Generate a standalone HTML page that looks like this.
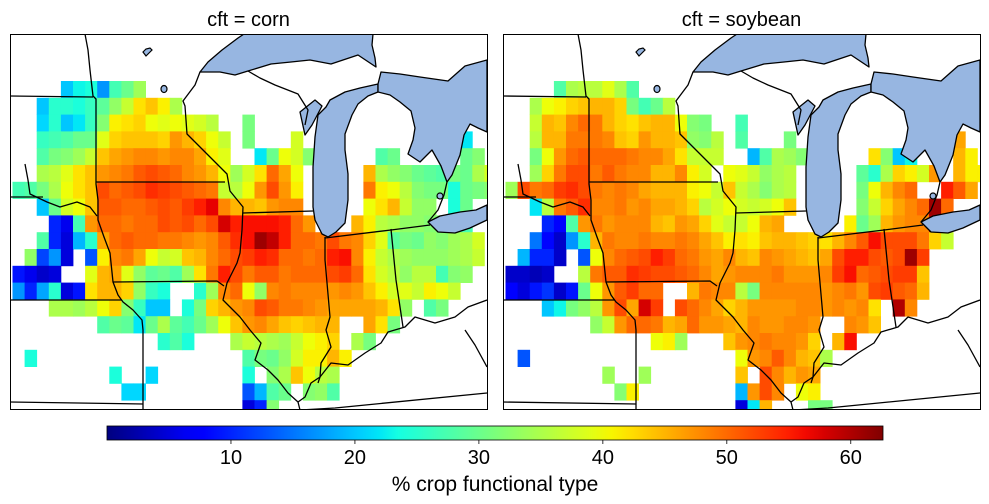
<!DOCTYPE html>
<html><head><meta charset="utf-8">
<style>
html,body{margin:0;padding:0;background:#fff;}
svg{display:block;font-family:"Liberation Sans","DejaVu Sans",sans-serif;}
</style></head>
<body>
<svg id="chart" width="989" height="504" viewBox="0 0 989 504" xmlns="http://www.w3.org/2000/svg"></svg>
<script>
const _ = null;
const panelTitles = ["cft = corn", "cft = soybean"];
const cbTicks = [10, 20, 30, 40, 50, 60];
const vmin = 0, vmax = 62.6;
// rows of [startCol, values] segments
const cornGrid = [
[[4,[20,23,24,17,27,30,34]]],
[[2,[20,25,25,24,26,29,33,37,42,44,41,35]]],
[[2,[21,25,20,22,26,32,41,42,43,40,39,40,39,38,36]],[19,[31]]],
[[2,[26,27,28,30,30,39,43,44,44,44,43,47,45,43,40,37]],[19,[31]],[23,[38]],[37,[22]]],
[[2,[28,31,32,34,37,44,46,47,48,48,47,48,48,46,41,39]],[20,[22,30,40,38,32]],[30,[28,30]],[37,[30,32]]],
[[2,[35,36,39,42,44,47,48,49,51,52,51,50,48,47,45,40,34,38,42,50,46,40]],[29,[45,35,33,32,30,29,28,31,30,35,38]]],
[[0,[27,28,31,35,40,42,44,52,50,51,52,54,53,52,51,50,49,37,36,40,47,52,47,41]],[29,[49,41,40,36,32,31,31,24,30,31,32]]],
[[2,[20,30,38,40,44,51,51,50,50,51,52,51,53,55,57,48,45,45,44,47,48,48]],[29,[40,42,45,37,33,33]],[36,[24,30]]],
[[3,[10,6,27,47,50,50,49,50,50,52,51,52,50,52,58,55,56,56,56,55,50,47]],[28,[45,41,36,35,33,33,32,32,30,27]]],
[[2,[28,10,5,19,25,46,50,51,50,50,49,49,48,47,48,51,54,56,61,59,55,50,50,49,52,49,48,43,39,29,31,30,33,32,34,35,38]]],
[[1,[33,12,17,5]],[6,[13,41,48,49,46,40,37,38,44,45,48,50,52,53,55,54,50,50,49,50,55,56,48,41,37,35,34,33,33,33,34,35,37]]],
[[0,[9,6,4,5]],[6,[39,45,46,39,33,29,30,28,34,42,49,55,52,49,51,51,49,50,50,50,52,53,50,42,38,36,33,36,36,27,32,33]]],
[[0,[17,10,18,25,5,9,42,45,45,43,33,26,24]],[15,[25,34,48,50,40,33,48,49,48,48,48,47,48,47,44,41,38,39,37,41,40,37]]],
[[3,[35,35,34,36,40,43,32,26,20,20]],[14,[24,31,43,45,47,48,52,51,49,49,48,47,46,46,46,46,45,42,33]],[34,[28,31]]],
[[7,[28,30,29,22,30,35,29,27,30,34,40,44,47,48,46,44,43,44,45,45]],[29,[46,42,31]]],
[[12,[25,28,24]],[18,[35,37,36,35,34,37,40,41,43]],[28,[35,31]]],
[[1,[24]],[19,[28,31,30,33,38,41,41,45,41]]],
[[8,[24]],[11,[21]],[19,[24]],[21,[32,35,44,40,36,35]]],
[[9,[21,21]],[19,[13,19,28,30]],[24,[32,33,28]]],
[[19,[5,10,32]]]
];
const soyGrid = [
[[4,[28,35,36,36,39,35,28]]],
[[2,[35,40,41,43,44,45,45,43,31,27,30,36]]],
[[2,[37,45,44,48,50,49,45,43,42,44,45,45,40,32,31]],[19,[27]]],
[[2,[36,45,45,49,49,49,48,44,43,47,45,45,44,33,32,36]],[19,[28]],[23,[31]],[37,[46]]],
[[2,[31,40,47,50,51,50,50,50,49,48,48,46,42,37,37,37]],[20,[19,28,35,34,32]],[30,[42,32,20,23]],[37,[45,41]]],
[[2,[34,43,49,52,52,49,51,49,48,48,45,45,48,41,38]],[18,[40,39,37,33,35,36]],[29,[29,25,35,43,41,38,47]],[37,[45,41,41]]],
[[0,[34,52,49,50,53,54,52,49,48,49,48,46,45,45,45,41,40,37,44,37,35,32,35,36]],[29,[31,40,45,48,50]],[36,[55,51,46]]],
[[2,[22,36,49,51,54,48,48,49,47,48,46,46,45,43,36,38,40,38,37,38,40,44]],[29,[32,37,43,46,48,50,61,50]]],
[[3,[10,7,28,47,49,47,48,48,48,45,44,47,46,43,39,37,37,40,45,46]],[28,[41,30,34,45,47,48,48,59]]],
[[2,[15,8,4,17,25,45,49,48,48,49,48,48,49,48,46,44,41,42,41,44,45,45,44,43,42,45,48,51,56,52,52,52,49,43,37]]],
[[1,[19,10,10,4]],[6,[13,40,48,50,51,52,55,53,50,49,47,46,48,45,44,48,47,46,45,44,46,52,55,55,52,51,52,61,53]]],
[[0,[4,4,3,4]],[6,[36,49,51,51,54,53,52,52,51,50,48,46,47,48,48,48,49,47,47,47,48,53,56,50,51,52,53,53,44]]],
[[0,[7,5,9,11,4,9,30,40,47,51,53,50,50]],[15,[45,49,48,48,36,31,48,48,48,48,48,47,48,49,47,52,53,51,50,45]]],
[[3,[20,23,31,33,36,47,52,46,58,53]],[14,[52,50,48,46,43,45,47,47,47,47,48,48,47,48,47,48,42]],[32,[60,48]]],
[[7,[33,37,47,50,50,49,45,46,50,47,47,46,45,48,47,47,48,48,47]],[28,[48,47,44]]],
[[12,[40,41,34]],[18,[44,47,48,49,48,48,47,43]],[27,[45,56]]],
[[1,[13]],[19,[40,47,48,51,48,45,44,35]]],
[[8,[34]],[11,[34]],[19,[44]],[21,[52,48,45,47,46]]],
[[9,[32,41]],[19,[19,47,52,48]],[24,[40,41]]],
[[19,[5,22,45]],[25,[31,31]]]
];

const NS = "http://www.w3.org/2000/svg";
const svg = document.getElementById("chart");
function mk(tag, attrs, parent) {
  const e = document.createElementNS(NS, tag);
  for (const k in attrs) e.setAttribute(k, attrs[k]);
  (parent || svg).appendChild(e);
  return e;
}
function seg(x, pts) {
  for (let i = 1; i < pts.length; i++) if (x <= pts[i][0]) { const a = pts[i-1], b = pts[i]; return a[1] + (b[1]-a[1])*(x-a[0])/(b[0]-a[0]); }
  return pts[pts.length-1][1];
}
const JR = [[0,0],[0.35,0],[0.66,1],[0.89,1],[1,0.5]];
const JG = [[0,0],[0.125,0],[0.375,1],[0.64,1],[0.91,0],[1,0]];
const JB = [[0,0.5],[0.11,1],[0.34,1],[0.65,0],[1,0]];
function jet(v) {
  let f = (v - vmin) / (vmax - vmin); f = Math.max(0, Math.min(1, f));
  const c = t => Math.round(255*seg(f, t));
  return `rgb(${c(JR)},${c(JG)},${c(JB)})`;
}
const colW = 12.1, rowH = 16.8, rowY0 = 81, colOff = 2.5;
const panelX = [10, 503], panelW = 477, panelY = 34, panelH = 376;
function xScale(p, c) { return panelX[p] + colOff + colW * c; }
function yScale(r) { return rowY0 + rowH * r; }
function cbX(v) { return 107 + (v - vmin) / (vmax - vmin) * 776; }

const grids = [cornGrid, soyGrid];
const LAKE = "#97b6e1";
const lakes = [
 {n:"lake-superior", d:"M200,72 L208,62 L222,50 L238,38 L244,34 L373,34 L372,45 L375,58 L376,67 L358,55 L331,64 L310,60 L291,62 L271,64 L248,71 L235,75 L220,72 Z"},
 {n:"lake-michigan", d:"M378,84 L360,88 L345,92 L330,100 L326,107 L318,115 L315,137 L313,167 L313,207 L315,220 L322,234 L328,237 L336,232 L345,223 L348,200 L348,174 L345,150 L345,134 L352,115 L358,104 L368,96 L378,92 Z"},
 {n:"green-bay", d:"M300,112 L315,100 L322,106 L312,125 L305,135 Z"},
 {n:"lake-huron", d:"M378,84 L381,72 L400,74 L420,77 L448,81 L465,66 L487,60 L487,132 L478,128 L470,124 L464,135 L460,155 L452,175 L447,182 L441,166 L432,150 L420,162 L408,154 L413,140 L415,128 L411,111 L400,102 L390,95 L378,92 Z"},
 {n:"lake-erie", d:"M428,222 L438,232 L455,233 L470,228 L487,220 L487,205 L476,210 L460,212 L440,216 Z"}
];
const borders = [
 "M85,34 L88,50 L90,70 L93,96 L96,99 L96,184 L98,200 L98,220 L104,237 L110,253 L113,282 L118,295 L123,302 L133,310 L142,320 L143,330 L143,410",
 "M10,96 L93,97",
 "M10,197 L43,197",
 "M25,164 L28,180 L30,194 L47,202 L60,207 L77,202 L90,207 L97,216",
 "M10,300 L122,300",
 "M10,402 L143,404",
 "M96,182 L225,182",
 "M113,282 L217,281 L224,286",
 "M200,72 L195,85 L183,101 L185,106 L187,134 L197,144 L210,157 L227,174 L230,191 L243,207 L242,230 L240,253 L237,263 L227,283 L223,300 L240,317 L250,330 L261,343 L255,360 L268,370 L278,380 L288,393 L298,402 L300,410",
 "M243,213 L313,211",
 "M248,71 L260,78 L275,85 L298,94 L308,110 L305,125",
 "M325,237 L325,260 L330,317 L326,330 L331,347 L321,363 L320,377 L318,383",
 "M325,238 L391,230 L430,225",
 "M391,229 L396,280 L403,327",
 "M487,300 L468,307 L455,317 L435,323 L415,317 L405,327 L388,332 L381,343 L365,353 L348,365 L331,363 L320,377 L311,383 L305,397 L298,402",
 "M300,410 L335,408 L487,393",
 "M465,330 L475,345 L487,367",
 "M447,182 L444,195 L438,210 L428,222"
];
const defs = mk("defs", {});
for (let p = 0; p < 2; p++) {
  const cp = mk("clipPath", {id: "clip" + p}, defs);
  mk("rect", {x: panelX[p], y: panelY, width: panelW, height: panelH}, cp);
  const g = mk("g", {"clip-path": `url(#clip${p})`});
  
  
  const grid = grids[p];
  grid.forEach((row, r) => {
    row.forEach(([c0, vals]) => {
      vals.forEach((v, i) => {
        if (v === null) return;
        const cell = mk("rect", {x: xScale(p, c0 + i).toFixed(2), y: yScale(r).toFixed(2), width: colW + 0.4, height: rowH + 0.4, fill: jet(v)}, g);
        
        
      });
    });
  });
  const geo = mk("g", {transform: `translate(${panelX[p]-10},0)`}, g);
  lakes.forEach(l => {
    const e = mk("path", {d: l.d, fill: LAKE, stroke: "#000", "stroke-width": 1.3, "stroke-linejoin": "round"}, geo);
    
    
  });
  const isl = mk("path", {d: "M143,52 L146,49 L150,48 L152,50 L149,53 L146,56 Z", fill: LAKE, stroke: "#000", "stroke-width": 1.2}, geo);
  
  
  const ml = mk("ellipse", {cx: 164, cy: 89, rx: 3, ry: 3.5, fill: LAKE, stroke: "#000", "stroke-width": 1.2}, geo);
  
  
  const sc = mk("ellipse", {cx: 440, cy: 196, rx: 3, ry: 3, fill: LAKE, stroke: "#000", "stroke-width": 1.2}, geo);
  
  
  borders.forEach(d => {
    const e = mk("path", {d: d, fill: "none", stroke: "#000", "stroke-width": 1.3, "stroke-linejoin": "round"}, geo);
    
    
  });
  const fr = mk("rect", {x: panelX[p] + 0.5, y: panelY + 0.5, width: panelW, height: panelH - 1, fill: "none", stroke: "#000", "stroke-width": 1});
  
  
  const t = mk("text", {x: panelX[p] + panelW/2, y: 26, "text-anchor": "middle", "font-size": 20, fill: "#000"});
  t.textContent = panelTitles[p];
  
  
}
const lg = mk("linearGradient", {id: "jetg", x1: 0, x2: 1, y1: 0, y2: 0}, defs);
for (let i = 0; i <= 40; i++) {
  const v = vmin + (vmax - vmin) * i / 40;
  mk("stop", {offset: (i/40).toFixed(3), "stop-color": jet(v)}, lg);
}
const cb = mk("rect", {x: 107, y: 426, width: 776, height: 14, fill: "url(#jetg)", stroke: "#000", "stroke-width": 0.8});


cbTicks.forEach(v => {
  const x = cbX(v);
  const tk = mk("line", {x1: x, x2: x, y1: 440, y2: 444, stroke: "#000", "stroke-width": 0.8});
  
  
  const tl = mk("text", {x: x, y: 464, "text-anchor": "middle", "font-size": 20, fill: "#000"});
  tl.textContent = String(v);
  
  
});
const cl = mk("text", {x: 495, y: 491, "text-anchor": "middle", "font-size": 21, fill: "#000"});
cl.textContent = "% crop functional type";


</script>
</body></html>
